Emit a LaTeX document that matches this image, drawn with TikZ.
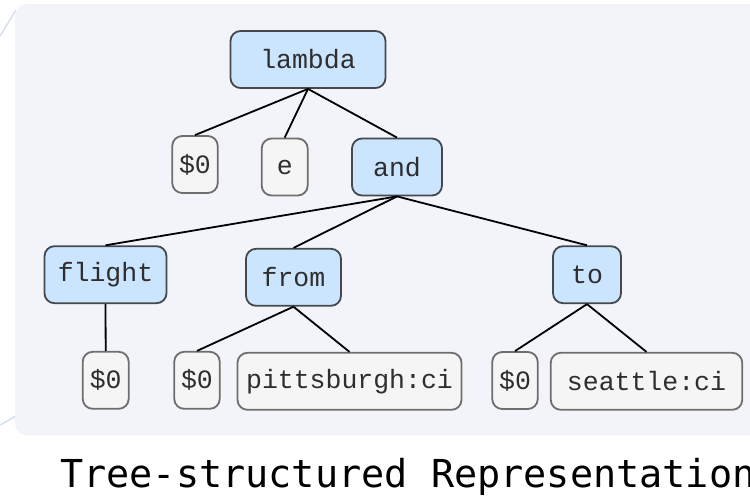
\documentclass[tikz,border=0pt]{standalone}
\usepackage{fontspec}
\setmonofont{Liberation Mono}
\newfontfamily\captionmono{DejaVu Sans Mono}
\definecolor{panelbg}{HTML}{F3F4F9}
\definecolor{swirl}{HTML}{D5DEF2}
\definecolor{opfill}{HTML}{CCE5FF}
\definecolor{opline}{HTML}{45484D}
\definecolor{leaffill}{HTML}{F5F5F5}
\definecolor{leafline}{HTML}{6E6E6E}
\definecolor{labeltext}{HTML}{2E2E2E}
\begin{document}
\begin{tikzpicture}[x=1pt,y=-1pt,
  treebox/.style={rounded corners=10pt, line width=1.8pt, inner sep=0pt,
    font=\fontsize{26.5}{26.5}\selectfont\ttfamily, text=labeltext},
  opnode/.style={treebox, fill=opfill, draw=opline},
  leafnode/.style={treebox, fill=leaffill, draw=leafline},
  branch/.style={line width=1.8pt, black}
]
\useasboundingbox (0,0) rectangle (750,496);
\fill[white] (0,0) rectangle (750,496);
% faint strokes at the left margin
\draw[swirl, line width=1.5pt] (0,36) -- (16,10);
\draw[swirl, line width=1.5pt] (0,425) -- (16,416);
% panel
\fill[panelbg, rounded corners=12pt] (15,4) rectangle (770,435);

% operator nodes
\node[opnode, minimum width=155pt, minimum height=57pt] (lambda) at (308,59.5) {lambda};
\node[opnode, minimum width=90pt, minimum height=57pt] (and) at (397,167) {and};
\node[opnode, minimum width=122pt, minimum height=57pt] (flight) at (105.5,274.7) {flight};
\node[opnode, minimum width=95pt, minimum height=57pt] (from) at (293.5,277.3) {from};
\node[opnode, minimum width=68pt, minimum height=57pt] (to) at (587,274.7) {to};

% leaves
\node[leafnode, minimum width=45.5pt, minimum height=57pt] (v1) at (195,164.5) {\$0};
\node[leafnode, minimum width=46pt, minimum height=57pt] (e) at (284.7,167) {e};
\node[leafnode, minimum width=46pt, minimum height=57pt] (v2) at (105.7,380.3) {\$0};
\node[leafnode, minimum width=45.5pt, minimum height=57pt] (v3) at (197,380.3) {\$0};
\node[leafnode, minimum width=224pt, minimum height=57pt] (pitt) at (349.5,381.3) {pittsburgh:ci};
\node[leafnode, minimum width=45.5pt, minimum height=57pt] (v4) at (515,380.5) {\$0};
\node[leafnode, minimum width=191.5pt, minimum height=57pt] (sea) at (646.5,381.3) {seattle:ci};

% branches
\draw[branch] (lambda.south) -- (v1.north);
\draw[branch] (lambda.south) -- (e.north);
\draw[branch] (lambda.south) -- (and.north);
\draw[branch] (and.south) -- (flight.north);
\draw[branch] (and.south) -- (from.north);
\draw[branch] (and.south) -- (to.north);
\draw[branch] (flight.south) -- (v2.north);
\draw[branch] (from.south) -- (v3.north);
\draw[branch] (from.south) -- (pitt.north);
\draw[branch] (to.south) -- (v4.north);
\draw[branch] (to.south) -- (sea.north);

% caption
\node[anchor=base west, inner sep=0pt, text=black,
  font=\fontsize{38.5}{38.5}\selectfont\captionmono] (cap) at (60,487)
  {Tree-structured Representation};
\end{tikzpicture}
\end{document}
